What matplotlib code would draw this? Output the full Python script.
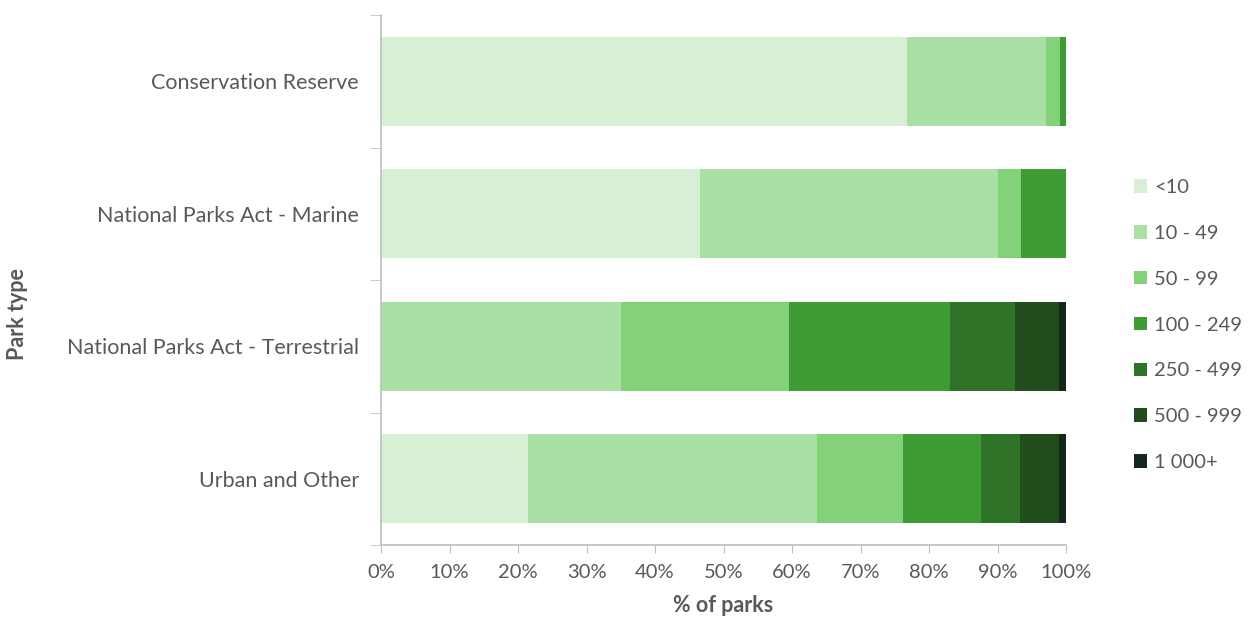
import matplotlib.pyplot as plt
import numpy as np
from matplotlib.ticker import FixedLocator, PercentFormatter

park_types = ['Conservation Reserve', 'National Parks Act - Marine',
              'National Parks Act - Terrestrial', 'Urban and Other']
size_classes = ['<10', '10 - 49', '50 - 99', '100 - 249', '250 - 499', '500 - 999', '1 000+']

# % of parks in each size class, per park type
lt10 = [76.8, 46.6, 0.0, 21.5]
s10_49 = [20.3, 43.5, 35.0, 42.1]
s50_99 = [2.0, 3.3, 24.6, 12.6]
s100_249 = [0.9, 6.6, 23.5, 11.4]
s250_499 = [0.0, 0.0, 9.5, 5.7]
s500_999 = [0.0, 0.0, 6.4, 5.7]
s1000 = [0.0, 0.0, 1.0, 1.0]

colors = ['#d7efd5', '#abe0a5', '#83d27a', '#3f9c35', '#2e7327', '#1f4d1b', '#13271d']

plt.rcParams['font.family'] = ['Lato', 'DejaVu Sans']
grey = '#595959'

fig = plt.figure(figsize=(12.56, 6.26), dpi=100)
ax = fig.add_axes([381 / 1256, 1 - 545 / 626, 685 / 1256, 530 / 626])

series = [lt10, s10_49, s50_99, s100_249, s250_499, s500_999, s1000]
y = np.arange(len(park_types))
left = np.zeros(len(park_types))
for vals, lab, c in zip(series, size_classes, colors):
    ax.barh(y, vals, left=left, height=0.675, color=c, label=lab)
    left += np.array(vals)

ax.set_xlim(0, 100)
ax.set_ylim(3.5, -0.5)
ax.set_yticks(y)
ax.set_yticklabels(park_types, fontsize=15.5, color=grey)
ax.yaxis.set_minor_locator(FixedLocator([-0.5, 0.5, 1.5, 2.5, 3.5]))
ax.tick_params(axis='y', which='major', length=0, pad=16)
ax.tick_params(axis='y', which='minor', length=8, color='#bfbfbf')
ax.set_xticks(np.arange(0, 101, 10))
ax.xaxis.set_major_formatter(PercentFormatter(decimals=0))
ax.tick_params(axis='x', length=6, color='#bfbfbf', labelcolor=grey, labelsize=14.5, pad=8)

for s in ['top', 'right']:
    ax.spines[s].set_visible(False)
for s in ['left', 'bottom']:
    ax.spines[s].set_color('#bfbfbf')
    ax.spines[s].set_linewidth(1.2)

ax.set_xlabel('% of parks', fontsize=15.5, fontweight='bold', color=grey, labelpad=10)
fig.text(18 / 1256, 1 - 314 / 626, 'Park type', rotation=90, fontsize=15.5,
         fontweight='bold', color=grey, ha='center', va='center')

ax.legend(loc='center left', bbox_to_anchor=(1.073, 0.415), frameon=False,
          fontsize=14.5, labelcolor=grey, handlelength=0.65, handleheight=0.65,
          handletextpad=0.35, labelspacing=1.43)

fig.savefig('out.png', dpi=100)
